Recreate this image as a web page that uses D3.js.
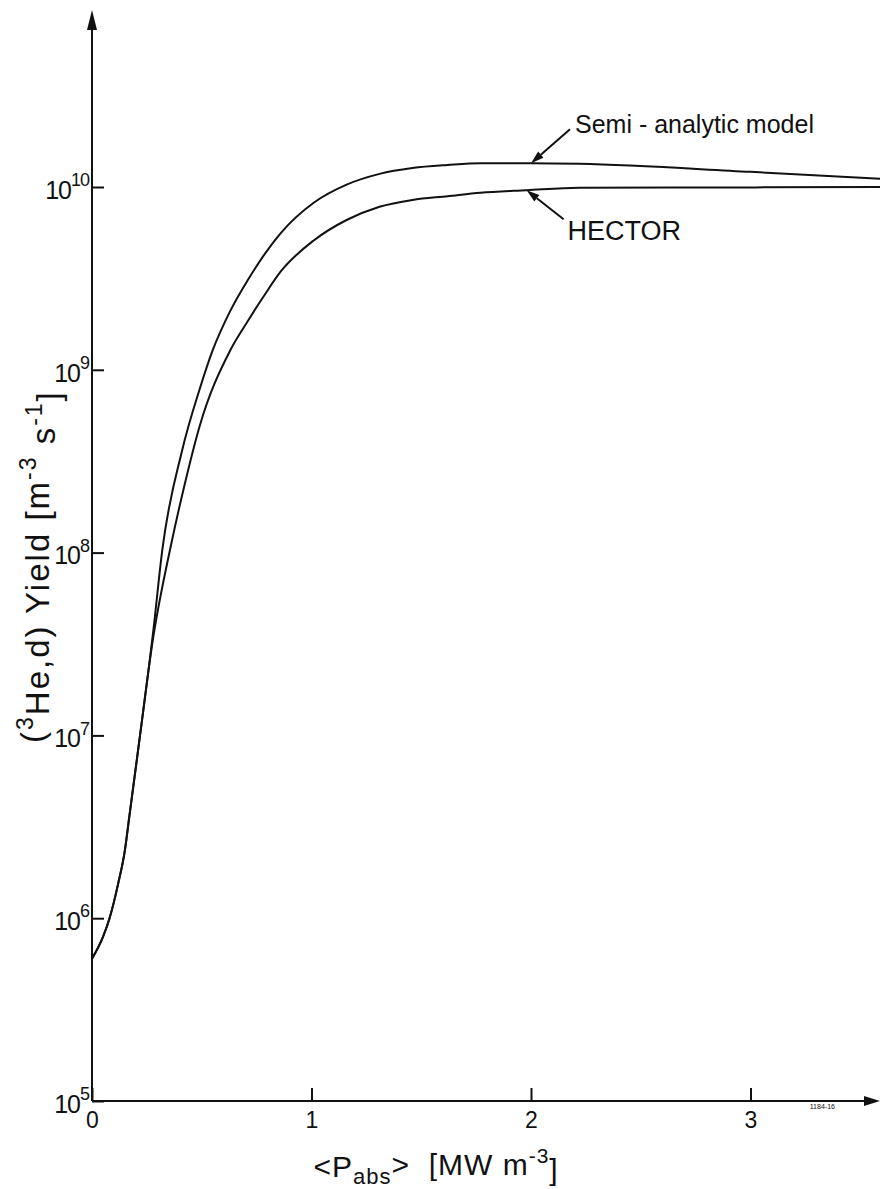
<!DOCTYPE html>
<html>
<head>
<meta charset="utf-8">
<script src="https://cdn.jsdelivr.net/npm/d3@7"></script>
<style>
    body { margin: 0; background: #fff; }
    svg text { font-family: "Liberation Sans", Arial, sans-serif; fill: #111; }
</style>
</head>
<body>
<svg id="plot" width="880" height="1189"></svg>
<script>

// Data.

const X_TICKS = [0, 1, 2, 3];
const Y_TICKS = [1e5, 1e6, 1e7, 1e8, 1e9, 1e10];

const SEMI_P = [0, 0.05, 0.08, 0.12, 0.15, 0.17, 0.21, 0.28, 0.32, 0.41, 0.49, 0.55, 0.63,
    0.71, 0.86, 1.01, 1.16, 1.31, 1.46, 1.62, 1.77, 2.0, 2.22, 3.0, 3.59];
const SEMI_YIELD = [6.0e5, 7.9e5, 1.0e6, 1.56e6, 2.36e6, 3.6e6, 8.3e6, 3.8e7, 1.03e8, 3.6e8, 7.8e8, 1.28e9, 2.1e9,
    3.1e9, 5.6e9, 8.2e9, 1.03e10, 1.18e10, 1.27e10, 1.32e10, 1.35e10, 1.35e10, 1.34e10, 1.21e10, 1.11e10];

const HECTOR_P = [0, 0.05, 0.08, 0.12, 0.15, 0.17, 0.21, 0.28, 0.36, 0.42, 0.49, 0.63, 0.71, 0.78,
    0.86, 1.01, 1.16, 1.31, 1.46, 1.62, 1.77, 1.98, 2.22, 3.0, 3.59];
const HECTOR_YIELD = [6.0e5, 7.9e5, 1.0e6, 1.56e6, 2.36e6, 3.6e6, 8.3e6, 3.5e7, 1.1e8, 2.3e8, 4.9e8, 1.28e9, 1.85e9, 2.5e9,
    3.45e9, 5.1e9, 6.6e9, 7.8e9, 8.5e9, 8.9e9, 9.3e9, 9.6e9, 9.9e9, 9.95e9, 1.0e10];

const SERIES = [
    { name: "Semi - analytic model", p: SEMI_P, y: SEMI_YIELD, tipIndex: 21, tail: [39, -34], label: [44, -30] },
    { name: "HECTOR", p: HECTOR_P, y: HECTOR_YIELD, tipIndex: 21, tail: [37, 29], label: [41, 50] },
];

// Layout.

const plot = d3.select("#plot");
const margin = { T: 10, L: 92, R: 0, B: 88 };
const width = 880, height = 1189;

const xScale = d3.scaleLinear()
    .domain([0, 3.59])
    .range([margin.L, width - margin.R]);

const yScale = d3.scaleLog()
    .domain([1e5, 1e10])
    .range([height - margin.B, 187]);

const x0 = xScale(0), y0 = yScale(1e5);

// Axis lines with arrow heads.

plot.append("line")
    .attr("x1", x0).attr("y1", y0)
    .attr("x2", x0).attr("y2", margin.T + 14)
    .attr("stroke", "#111").attr("stroke-width", 2);

plot.append("path")
    .attr("d", `M${x0},${margin.T} L${x0 - 5},${margin.T + 20} L${x0 + 5},${margin.T + 20} Z`)
    .attr("fill", "#111");

plot.append("line")
    .attr("x1", x0).attr("y1", y0)
    .attr("x2", xScale.range()[1] - 12).attr("y2", y0)
    .attr("stroke", "#111").attr("stroke-width", 2);

plot.append("path")
    .attr("d", `M${xScale.range()[1]},${y0} L${xScale.range()[1] - 16},${y0 - 5} L${xScale.range()[1] - 16},${y0 + 5} Z`)
    .attr("fill", "#111");

// x Axis.

const xAx = plot.append("g")
    .attr("transform", `translate(0, ${y0})`)
    .call(d3.axisBottom(xScale)
        .tickValues(X_TICKS)
        .tickSize(-13)
        .tickPadding(11)
        .tickFormat(d3.format("d")));

xAx.select(".domain").remove();
xAx.selectAll("line").attr("stroke", "#111").attr("stroke-width", 2);
xAx.selectAll("text").style("font-size", "23px");

// y Axis, labels as powers of ten.

const yAx = plot.append("g")
    .attr("transform", `translate(${x0}, 0)`)
    .call(d3.axisLeft(yScale)
        .tickValues(Y_TICKS)
        .tickSize(-12)
        .tickPadding(3)
        .tickFormat(() => ""));

yAx.select(".domain").remove();
yAx.selectAll("line").attr("stroke", "#111").attr("stroke-width", 2);
yAx.selectAll("text")
    .attr("dy", "0.45em")
    .style("font-size", "25px")
    .style("letter-spacing", "-1px")
    .each(function(d) {
        const t = d3.select(this);
        t.append("tspan").text("10");
        t.append("tspan")
            .attr("dy", "-0.7em")
            .style("font-size", "18px")
            .text(Math.round(Math.log10(d)));
    });

// Curves.

const line = d3.line()
    .x(d => xScale(d[0]))
    .y(d => yScale(d[1]))
    .curve(d3.curveMonotoneX);

plot.selectAll(".curve")
    .data(SERIES)
    .join("path")
        .attr("class", "curve")
        .attr("d", s => line(s.p.map((p, i) => [p, s.y[i]])))
        .attr("fill", "none")
        .attr("stroke", "#111")
        .attr("stroke-width", 2);

// Annotations with arrows.

SERIES.forEach(s => {
    const tx = xScale(s.p[s.tipIndex]);
    const ty = yScale(s.y[s.tipIndex]);
    const ax = tx + s.tail[0], ay = ty + s.tail[1];
    const ang = Math.atan2(ty - ay, tx - ax);
    const len = 13, half = 4;
    const bx = tx - len * Math.cos(ang), by = ty - len * Math.sin(ang);

    plot.append("line")
        .attr("x1", ax).attr("y1", ay)
        .attr("x2", bx).attr("y2", by)
        .attr("stroke", "#111").attr("stroke-width", 2);

    plot.append("path")
        .attr("d", `M${tx},${ty} L${bx - half * Math.sin(ang)},${by + half * Math.cos(ang)} L${bx + half * Math.sin(ang)},${by - half * Math.cos(ang)} Z`)
        .attr("fill", "#111");

    plot.append("text")
        .attr("x", tx + s.label[0])
        .attr("y", ty + s.label[1])
        .style("font-size", s.name === "HECTOR" ? "27px" : "25px")
        .text(s.name);
});

// Axis titles.

const xTitle = plot.append("text")
    .attr("x", xScale(1) + 2)
    .attr("y", y0 + 76)
    .style("font-size", "30px")
    .style("letter-spacing", "1px");
xTitle.append("tspan").text("<P");
xTitle.append("tspan").attr("dy", "0.3em").style("font-size", "22px").text("abs");
xTitle.append("tspan").attr("dy", "-0.3em").text(">\u00a0\u00a0[MW m");
xTitle.append("tspan").attr("dy", "-0.55em").style("font-size", "21px").text("-3");
xTitle.append("tspan").attr("dy", "0.55em").text("]");

const yTitle = plot.append("text")
    .attr("transform", `translate(44, ${(yScale(1e7) + yScale(1e9)) / 2 + 14}) rotate(-90)`)
    .attr("text-anchor", "middle")
    .style("font-size", "33px")
    .style("letter-spacing", "2px");
yTitle.append("tspan").text("(");
yTitle.append("tspan").attr("dy", "-0.5em").style("font-size", "23px").text("3");
yTitle.append("tspan").attr("dy", "0.5em").text("He,d) Yield [m");
yTitle.append("tspan").attr("dy", "-0.55em").style("font-size", "23px").text("-3");
yTitle.append("tspan").attr("dy", "0.55em").text(" s");
yTitle.append("tspan").attr("dy", "-0.55em").style("font-size", "23px").text("-1");
yTitle.append("tspan").attr("dy", "0.55em").text("]");

// Figure code in the corner.

plot.append("text")
    .attr("x", xScale(3.27))
    .attr("y", y0 + 8)
    .style("font-size", "7px")
    .text("1184-16");

</script>
</body>
</html>
